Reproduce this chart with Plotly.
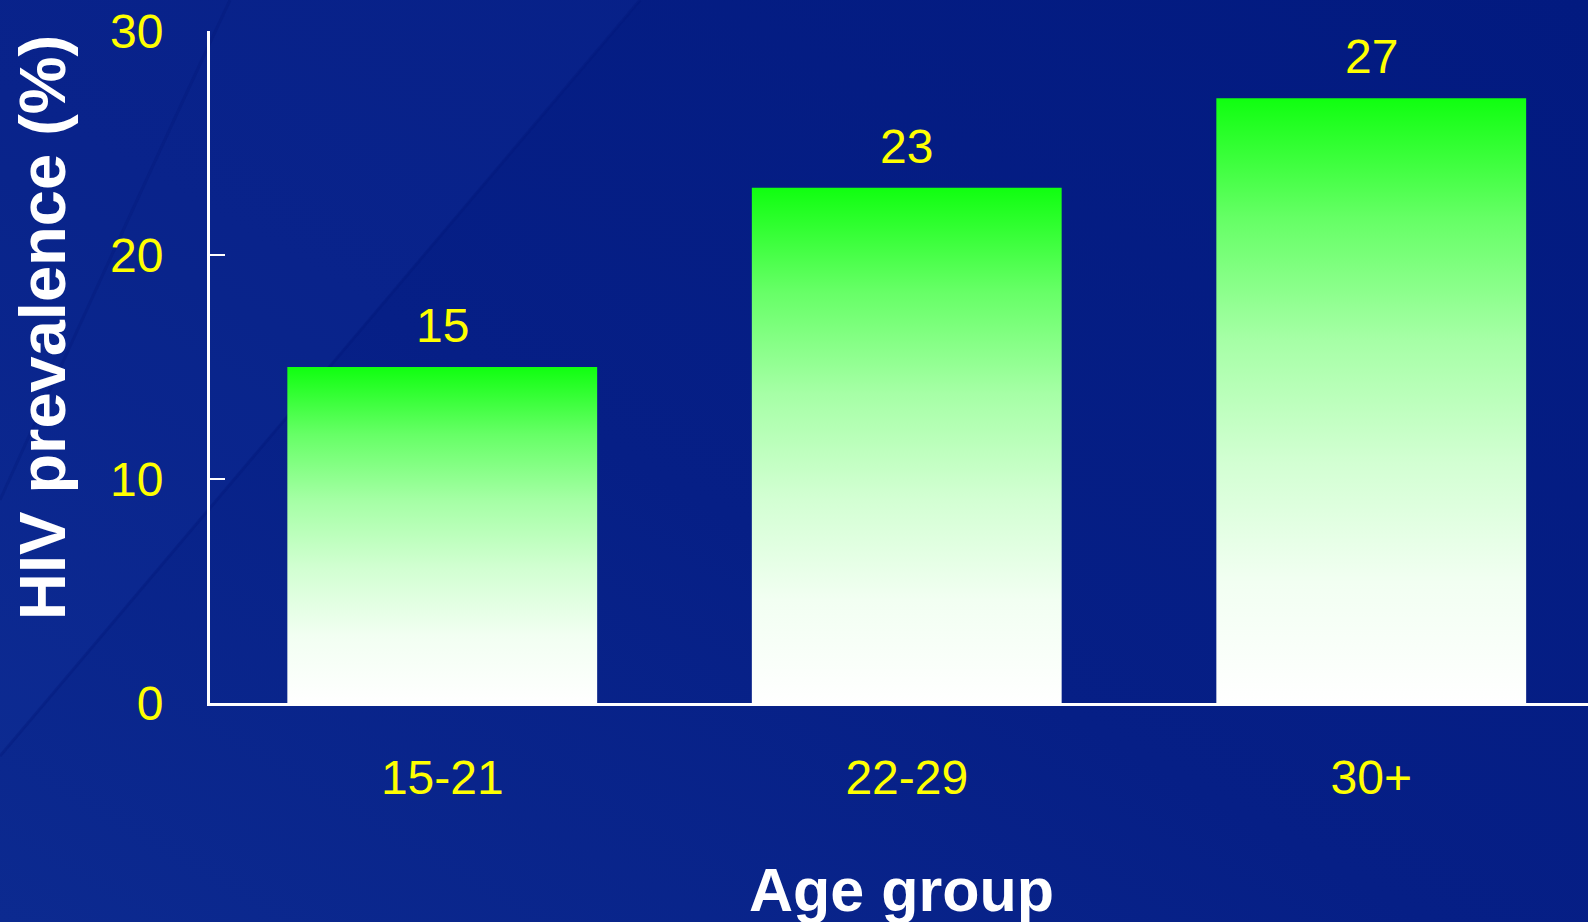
import base64
import plotly.graph_objects as go

# ---- data ----
categories = ["15-21", "22-29", "30+"]
prevalence = [15, 23, 27]
y_ticks = [0, 10, 20, 30]

# ---- styling ----
FONT = "Liberation Sans, Arial, sans-serif"
YELLOW = "#ffff00"
W, H = 1588, 922
ML, MR, MT, MB = 210, 0, 31, 219
PW, PH = W - ML - MR, H - MT - MB
BAR_W = 0.667
GRAD = [[0.0, "#ffffff"], [0.2, "#f2fff2"], [0.4, "#d2ffd2"],
        [0.6, "#a6ffa6"], [0.8, "#66ff66"], [1.0, "#10ff10"]]

svg = f'''<svg xmlns="http://www.w3.org/2000/svg" width="{W}" height="{H}" viewBox="0 0 {W} {H}">
<defs><linearGradient id="g" x1="0" y1="1" x2="1" y2="0">
<stop offset="0" stop-color="#0c2a90"/><stop offset="0.45" stop-color="#061f86"/>
<stop offset="1" stop-color="#021a80"/></linearGradient></defs>
<rect width="{W}" height="{H}" fill="url(#g)"/>
<path d="M0 0 L640 0 Q300 400 0 756 Z" fill="#1a3aa8" fill-opacity="0.15"/>
<path d="M0 756 Q300 400 640 0" stroke="#021878" stroke-opacity="0.35" stroke-width="3" fill="none"/>
<path d="M0 500 Q150 170 230 0" stroke="#021878" stroke-opacity="0.3" stroke-width="3" fill="none"/>
</svg>'''
bg_uri = "data:image/svg+xml;base64," + base64.b64encode(svg.encode()).decode()

fig = go.Figure()
for i, (cat, v) in enumerate(zip(categories, prevalence)):
    x0, x1 = i - BAR_W / 2, i + BAR_W / 2
    fig.add_trace(go.Scatter(
        x=[x0, x1, x1, x0, x0], y=[0, 0, v, v, 0],
        mode="lines", fill="toself", line=dict(width=0),
        fillgradient=dict(type="vertical", colorscale=GRAD, start=0, stop=v),
        name=cat, showlegend=False, hoverinfo="skip"))
    fig.add_annotation(x=i, y=v, text=str(v), showarrow=False,
                       xanchor="center", yanchor="bottom", yshift=13,
                       font=dict(family=FONT, size=48, color=YELLOW))

fig.add_annotation(xref="paper", yref="paper", x=(42 - ML) / PW, y=(H - MB - 328) / PH,
                   text="<b>HIV prevalence (%)</b>", textangle=-90, showarrow=False,
                   xanchor="center", yanchor="middle",
                   font=dict(family=FONT, size=65, color="white"))
fig.add_annotation(xref="paper", yref="paper", x=(901 - ML) / PW, y=(H - MB - 890) / PH,
                   text="<b>Age group</b>", showarrow=False,
                   xanchor="center", yanchor="middle",
                   font=dict(family=FONT, size=61, color="white"))

fig.add_layout_image(dict(source=bg_uri, xref="paper", yref="paper",
                          x=-ML / PW, y=1 + MT / PH, sizex=W / PW, sizey=H / PH,
                          xanchor="left", yanchor="top", sizing="stretch", layer="below"))

fig.update_layout(
    width=W, height=H, margin=dict(l=ML, r=MR, t=MT, b=MB),
    paper_bgcolor="#041c83", plot_bgcolor="rgba(0,0,0,0)",
    font=dict(family=FONT, color=YELLOW),
)
fig.update_xaxes(range=[-0.5, -0.5 + PW / 464.5], tickvals=list(range(len(categories))),
                 ticktext=categories, showline=True, linecolor="white", linewidth=3,
                 ticks="", showgrid=False, zeroline=False, ticklabelstandoff=30,
                 tickfont=dict(family=FONT, size=48, color=YELLOW))
fig.update_yaxes(range=[0, 30], tickvals=y_ticks, showline=True, linecolor="white",
                 linewidth=3, ticks="inside", ticklen=15, tickwidth=2, tickcolor="white",
                 showgrid=False, zeroline=False, ticklabelstandoff=34,
                 tickfont=dict(family=FONT, size=48, color=YELLOW))

fig.write_html("out.html", config={"displayModeBar": False},
               post_script="document.body.style.margin='0';document.body.style.overflow='hidden';")
